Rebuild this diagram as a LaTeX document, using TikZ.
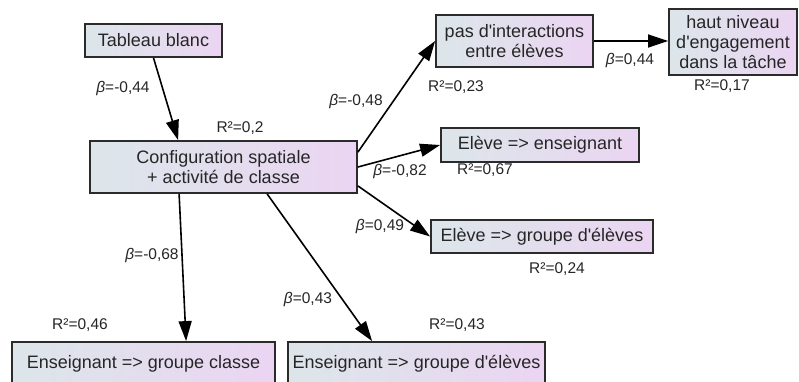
\documentclass[tikz,border=0pt]{standalone}
\usepackage{fontspec}
\setmainfont{Liberation Sans}[Ligatures=TeXOff]
\usetikzlibrary{arrows.meta,calc}
\definecolor{boxL}{HTML}{DCE6EA}
\definecolor{boxR}{HTML}{EBD5F2}
\definecolor{edgec}{HTML}{2B2B2B}
\definecolor{ink}{HTML}{262626}
\begin{document}
\begin{tikzpicture}[x=1pt,y=-1pt,
  box/.style={draw=edgec, line width=1.8pt, left color=boxL, right color=boxR,
    inner sep=0pt, align=center, font=\fontsize{18}{20}\selectfont, text=ink},
  lab/.style={font=\fontsize{15.5}{18}\selectfont, text=ink, inner sep=0pt},
  arr/.style={line width=1.6pt, draw=black, -{Triangle[length=20pt,width=13pt]}}]
\useasboundingbox (0,0) rectangle (799,381);
\clip (0,0) rectangle (799,381);
\fill[white] (0,0) rectangle (799,381);
% boxes
\node[box, minimum width=137pt, minimum height=33pt] (tab) at (153.5,40.5) {Tableau blanc};
\node[box, minimum width=267pt, minimum height=52pt] (cfg) at (223.5,167) {Configuration spatiale\\+ activité de classe};
\node[box, minimum width=157pt, minimum height=52pt] (pas) at (514.5,41) {pas d'interactions\\entre élèves};
\node[box, minimum width=128pt, minimum height=66pt] (haut) at (733,42) {haut niveau\\d'engagement\\dans la tâche};
\node[box, minimum width=198pt, minimum height=34pt] (ee) at (540,145) {Elève => enseignant};
\node[box, minimum width=222pt, minimum height=33pt] (eg) at (542,236.5) {Elève => groupe d'élèves};
\node[box, minimum width=263pt, minimum height=44pt] (enc) at (143.5,364) {Enseignant => groupe classe};
\node[box, minimum width=257pt, minimum height=44pt] (eng) at (416.5,364) {Enseignant => groupe d'élèves};
% arrows
\draw[arr] (tab.south) -- ([xshift=89pt]cfg.north west);
\draw[arr] ([yshift=-12pt]cfg.north east) -- (pas.west);
\draw[arr] (cfg.east) -- (ee.west);
\draw[arr] ([yshift=8pt]cfg.south east) -- (eg.west);
\draw[arr] ([xshift=90pt]cfg.south west) -- ([xshift=175pt]enc.north west);
\draw[arr] ([xshift=178pt]cfg.south west) -- ([xshift=85pt]eng.north west);
\draw[arr] (pas.east) -- (pas.east -| haut.west);
% labels
\node[lab] (b1) at (123,88) {{\itshape β}=-0,44};
\node[lab] (r1) at (240,128) {R²=0,2};
\node[lab] (b2) at (356,101) {{\itshape β}=-0,48};
\node[lab] (r2) at (456,87) {R²=0,23};
\node[lab] (b3) at (630,60) {{\itshape β}=0,44};
\node[lab] (r3) at (722,86) {R²=0,17};
\node[lab] (b4) at (400,171) {{\itshape β}=-0,82};
\node[lab] (r4) at (485,170) {R²=0,67};
\node[lab] (b5) at (380,226) {{\itshape β}=0,49};
\node[lab] (r5) at (557,269) {R²=0,24};
\node[lab] (b6) at (152,255) {{\itshape β}=-0,68};
\node[lab] (b7) at (308,299) {{\itshape β}=0,43};
\node[lab] (r6) at (80,325) {R²=0,46};
\node[lab] (r7) at (457,325) {R²=0,43};
\end{tikzpicture}
\end{document}
